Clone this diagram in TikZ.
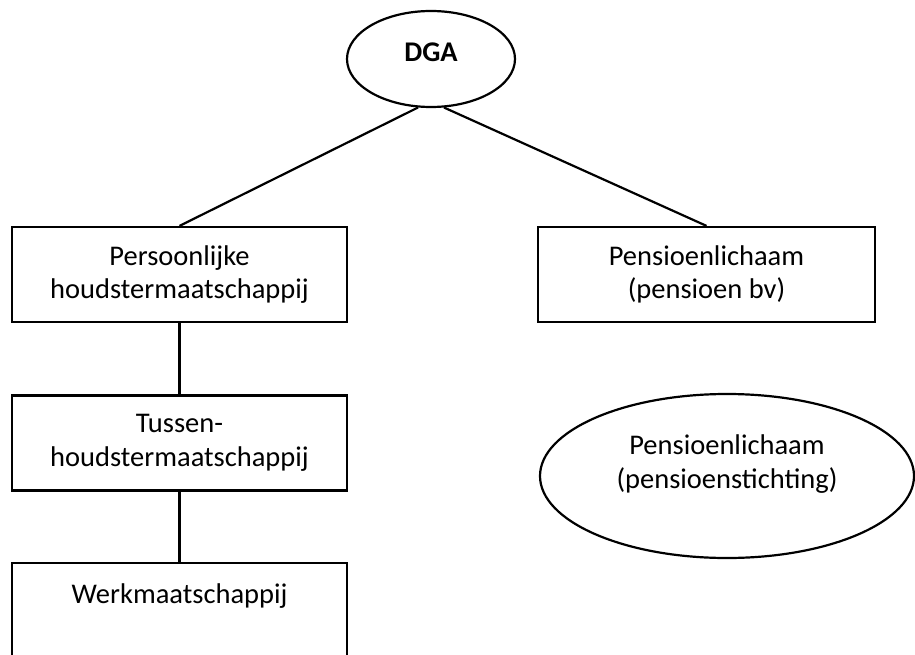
\documentclass[tikz,border=0pt]{standalone}
\usepackage{fontspec}
\setmainfont{Carlito}
\usetikzlibrary{shapes.geometric}

\begin{document}
\begin{tikzpicture}[
x=1pt, y=-1pt, % 1 unit = 1 pixel of the sketch, y runs downwards
every node/.style={font=\fontsize{28.5}{33.5}\selectfont, align=center, inner sep=2pt},
entity/.style={draw, line width=2.2pt, minimum width=#1, minimum height=95pt},
party/.style={draw, ellipse, line width=2.2pt},
link/.style={line width=2.2pt}
]

% --- Frame of the picture ---
\clip (0,0) rectangle (915,655);

% --- Top: the director-shareholder ---
\node[party, minimum width=168pt, minimum height=96pt,
  label={[yshift=7pt]center:\textbf{DGA}}] (dga) at (431,59) {};

% --- Left column: holding chain ---
\node[entity=335pt] (holding) at (179.5,274.5) {Persoonlijke\\houdstermaatschappij};
\node[entity=335pt] (tussen) at (179.5,443) {Tussen-\\houdstermaatschappij};
\node[entity=335pt] (werk) at (179.5,610.5) {Werkmaatschappij\\~};

% --- Right column: pension bodies ---
\node[entity=337pt] (pensioenbv) at (706.5,274.5) {Pensioenlichaam\\(pensioen bv)};
\node[party, minimum width=374pt, minimum height=164pt,
  label={[yshift=12pt]center:Pensioenlichaam\\(pensioenstichting)}] (stichting) at (727,476) {};

% Verbindingslijnen
\draw[link] (dga.255) -- (holding.north);
\draw[link] (dga.285) -- (pensioenbv.north);
\draw[link] (holding.south) -- (tussen.north);
\draw[link] (tussen.south) -- (werk.north);

\end{tikzpicture}
\end{document}
